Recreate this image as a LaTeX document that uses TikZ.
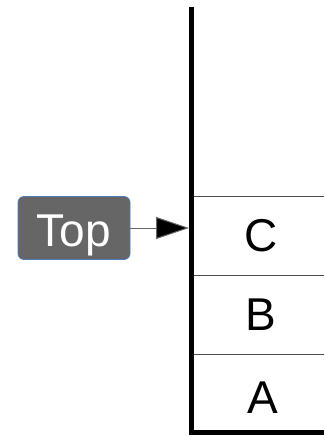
\documentclass[tikz,border=0pt]{standalone}
\usepackage{fontspec}
\setmainfont{Liberation Sans}
\usetikzlibrary{arrows.meta}
\definecolor{boxfill}{HTML}{666666}
\definecolor{boxedge}{HTML}{4F7BBE}
\begin{document}
\begin{tikzpicture}[x=1pt,y=-1pt,
  wall/.style={line width=5pt,black},
  divider/.style={line width=0.9pt,black!70},
  cell/.style={font=\fontsize{46}{46}\selectfont,text=black,inner sep=0pt},
  pointer/.style={draw=boxedge,line width=0.8pt,fill=boxfill,rounded corners=6pt,
    text=white,font=\fontsize{46}{46}\selectfont,text height=36pt,text depth=0pt,
    minimum width=112pt,minimum height=63pt,inner sep=0pt},
  link/.style={draw=black!60,line width=1pt,-{Triangle[length=33pt,width=22pt,fill=black]}}]
\useasboundingbox (0,0) rectangle (324,436);
% stack walls
\draw[wall] (191,7) -- (191,432) -- (324,432);
% cell dividers
\foreach \y in {196,275,354} \draw[divider] (193.5,\y) -- (324,\y);
% cell contents
\node[cell] (c) at (261,236) {C};
\node[cell] (b) at (261,315) {B};
\node[cell] (a) at (263,398) {A};
% top pointer
\node[pointer] (top) at (74,228) {Top};
\coordinate (wallin) at (189,228);
\draw[link] (top.east) -- (wallin);
\end{tikzpicture}
\end{document}
